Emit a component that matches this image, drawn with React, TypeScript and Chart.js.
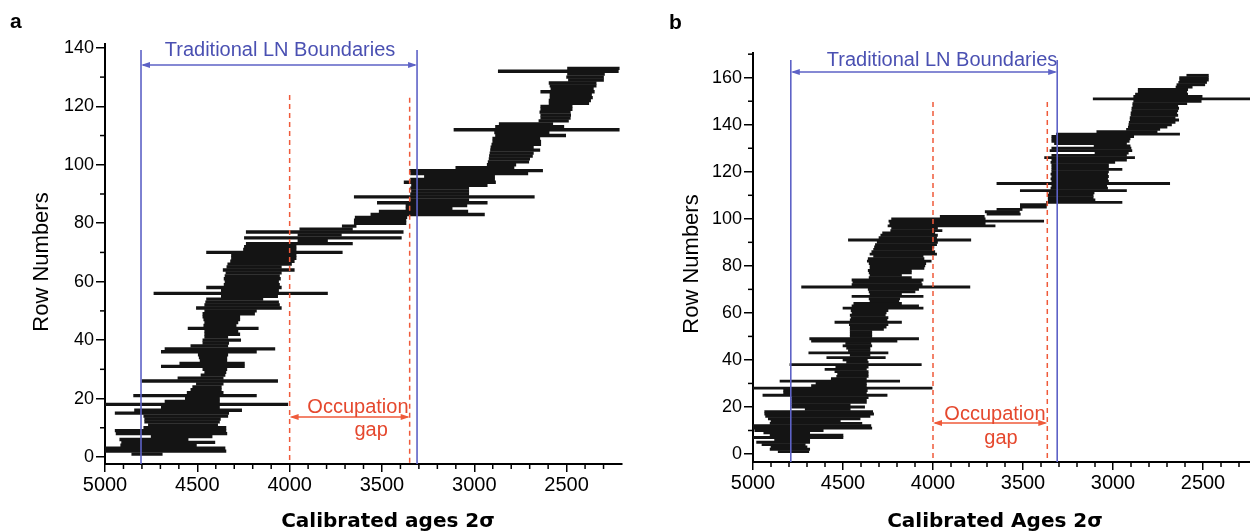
import React, { useEffect, useRef } from "react";
import { Chart, registerables } from "chart.js";

Chart.register(...registerables);

// ---------- Panel a: calibrated 2σ ranges (older -> younger), rows 1..133 ----------
const aStart = [
  4855, 5000, 5000, 4915, 4910, 4920, 4750, 4940, 4945, 4790,
  4765, 4785, 4785, 4790, 4945, 4840, 4695, 5000, 4675, 4565,
  4845, 4555, 4535, 4525, 4505, 4800, 4605, 4480, 4460, 4470,
  4695, 4595, 4485, 4490, 4495, 4695, 4675, 4535, 4470, 4470,
  4460, 4460, 4460, 4550, 4465, 4460, 4465, 4470, 4470, 4460,
  4505, 4460, 4455, 4450, 4370, 4735, 4370, 4450, 4355, 4350,
  4355, 4350, 4345, 4360, 4340, 4335, 4320, 4315, 4315, 4450,
  4250, 4245, 4235, 3955, 4245, 3955, 4235, 3945, 3715, 3650,
  3650, 3645, 3560, 3515, 3370, 3370, 3525, 3345, 3650, 3345,
  3340, 3345, 3340, 3380, 3345, 3270, 3345, 3350, 3100, 2930,
  2925, 2920, 2918, 2915, 2912, 2910, 2905, 2900, 2900, 2885,
  2890, 3110, 2885, 2865, 2650, 2640, 2640, 2645, 2640, 2640,
  2595, 2595, 2590, 2590, 2640, 2585, 2590, 2595, 2490, 2500,
  2495, 2870, 2495,
];
const aEnd = [
  4690, 4345, 4350, 4505, 4405, 4550, 4420, 4340, 4345, 4345,
  4390, 4380, 4375, 4335, 4330, 4260, 4380, 4010, 4380, 4380,
  4180, 4360, 4370, 4370, 4360, 4065, 4360, 4350, 4345, 4340,
  4245, 4245, 4340, 4340, 4335, 4180, 4080, 4335, 4330, 4265,
  4335, 4270, 4280, 4170, 4290, 4280, 4270, 4270, 4190, 4180,
  4045, 4055, 4060, 4145, 4065, 3795, 4060, 4045, 4055, 4060,
  4050, 4055, 4045, 3975, 4045, 3990, 3975, 3965, 3965, 3715,
  3965, 3965, 3660, 3795, 3395, 3720, 3385, 3660, 3640, 3370,
  3370, 3365, 2945, 3035, 3120, 3040, 2930, 3030, 2675, 3030,
  3030, 3030, 2930, 2885, 2890, 2890, 2710, 2630, 2785, 2775,
  2705, 2700, 2685, 2680, 2645, 2680, 2640, 2640, 2645, 2505,
  2595, 2215, 2515, 2575, 2490, 2480, 2478, 2480, 2470, 2470,
  2380, 2370, 2360, 2365, 2350, 2355, 2340, 2340, 2300, 2300,
  2295, 2220, 2215,
];

// ---------- Panel b: rows 1..161 ----------
const bStart = [
  4860, 4905, 4900, 4950, 4980, 4880, 5000, 4905, 4940, 4990,
  5000, 5000, 4905, 4900, 4915, 4930, 4935, 4935, 4710, 4785,
  4785, 4785, 4785, 4785, 4945, 4830, 4830, 5000, 4675, 4650,
  4850, 4565, 4535, 4530, 4545, 4600, 4540, 4795, 4480, 4500,
  4590, 4460, 4690, 4470, 4480, 4500, 4485, 4675, 4685, 4460,
  4460, 4460, 4460, 4460, 4465, 4545, 4460, 4455, 4460, 4450,
  4455, 4500, 4450, 4440, 4350, 4355, 4450, 4350, 4355, 4360,
  4730, 4450, 4445, 4450, 4355, 4350, 4355, 4360, 4350, 4350,
  4355, 4365, 4360, 4330, 4350, 4340, 4330, 4325, 4320, 4310,
  4470, 4300, 4290, 4280, 4235, 4230, 4250, 4240, 4245, 4230,
  3960, 3700, 3710, 3645, 3515, 3515, 3370, 3360, 3360, 3360,
  3355, 3515, 3345, 3340, 3645, 3340, 3345, 3340, 3345, 3340,
  3340, 3340, 3340, 3345, 3340, 3380, 3340, 3100, 3350, 3340,
  3105, 3325, 3340, 3340, 3340, 3315, 3090, 2925, 2915, 2912,
  2910, 2905, 2905, 2900, 2900, 2895, 2895, 2890, 2890, 2885,
  3110, 2885, 2875, 2860, 2860, 2650, 2645, 2635, 2630, 2630,
  2590,
];
const bEnd = [
  4690, 4685, 4700, 4710, 4685, 4685, 4500, 4500, 4685, 4610,
  4340, 4345, 4395, 4515, 4405, 4350, 4330, 4335, 4460, 4380,
  4460, 4370, 4370, 4360, 4255, 4370, 4365, 4005, 4370, 4370,
  4185, 4370, 4360, 4360, 4360, 4370, 4360, 4065, 4360, 4365,
  4265, 4350, 4250, 4350, 4350, 4340, 4345, 4200, 4080, 4340,
  4340, 4340, 4275, 4260, 4250, 4175, 4255, 4250, 4265, 4260,
  4250, 4055, 4080, 4175, 4190, 4185, 4055, 4175, 4100, 4080,
  3795, 4060, 4065, 4055, 4120, 4175, 4120, 4120, 4050, 4045,
  4040, 4010, 4050, 4055, 3980, 3990, 4005, 3995, 3980, 3975,
  3790, 3980, 3975, 3990, 3950, 3975, 3655, 3710, 3385, 3710,
  3715, 3515, 3520, 3505, 3370, 3365, 2950, 3100, 3110, 3110,
  3105, 2925, 3030, 3035, 2685, 3025, 3030, 3025, 3030, 3025,
  2950, 3025, 3025, 2990, 2925, 2880, 2925, 2915, 2895, 2900,
  2905, 2925, 2910, 2905, 2885, 2630, 2755, 2740, 2700, 2675,
  2655, 2635, 2655, 2640, 2645, 2640, 2635, 2640, 2590, 2510,
  2200, 2505, 2585, 2590, 2585, 2560, 2490, 2480, 2470, 2470,
  2470,
];

// ---------- Axis ticks ----------
const X_MAJOR = [5000, 4500, 4000, 3500, 3000, 2500];
const Y_MAJOR_A = [0, 20, 40, 60, 80, 100, 120, 140];
const Y_MAJOR_B = [0, 20, 40, 60, 80, 100, 120, 140, 160];

// Traditional LN boundaries / occupation gap (ages)
const LN_A = [4805, 3310];
const GAP_A = [4000, 3350];
const LN_B = [4790, 3310];
const GAP_B = [4000, 3365];

const BLUE_LINE = "#5d62c6";
const BLUE_TEXT = "#4a50b2";
const RED_LINE = "#ef5a3a";
const RED_TEXT = "#e5482e";
const SANS = "'Liberation Sans', Arial, Helvetica, sans-serif";
const BOLD_TITLE = "'DejaVu Sans', Verdana, sans-serif";

type PanelCfg = {
  letter: string;
  letterX: number;
  letterY: number;
  left: number;
  width: number;
  starts: number[];
  ends: number[];
  yMin: number;
  yMax: number;
  yMajor: number[];
  padTop: number;
  padRight: number;
  yAxisW: number;
  xAxisH: number;
  barT: number;
  xTitle: string;
  xTitleX: number;
  yTitleX: number;
  yTitleY: number;
  ln: number[];
  lnTop: number;
  lnArrowY: number;
  lnTextAt: [number, number];
  gap: number[];
  gapTopL: number;
  gapTopR: number;
  gapArrowY: number;
  occAt: [number, number];
  gapTextAt: [number, number];
};

const PANELS: PanelCfg[] = [
  {
    letter: "a", letterX: 10, letterY: 28, left: 0, width: 630,
    starts: aStart, ends: aEnd, yMin: -2.4, yMax: 141.5, yMajor: Y_MAJOR_A,
    padTop: 43.5, padRight: 8, yAxisW: 105, xAxisH: 68, barT: 2.7,
    xTitle: "Calibrated ages 2σ", xTitleX: 388, yTitleX: 42, yTitleY: 262,
    ln: LN_A, lnTop: 139.3, lnArrowY: 134.1, lnTextAt: [4052, 137.3],
    gap: GAP_A, gapTopL: 123.9, gapTopR: 122.9, gapArrowY: 13.7,
    occAt: [3630, 15.0], gapTextAt: [3559, 7.2],
  },
  {
    letter: "b", letterX: 34, letterY: 29, left: 635, width: 625,
    starts: bStart, ends: bEnd, yMin: -3.4, yMax: 170.5, yMajor: Y_MAJOR_B,
    padTop: 53, padRight: 3, yAxisW: 118, xAxisH: 70, barT: 2.2,
    xTitle: "Calibrated Ages 2σ", xTitleX: 995 - 635, yTitleX: 692 - 635, yTitleY: 264,
    ln: LN_B, lnTop: 167.5, lnArrowY: 162.4, lnTextAt: [3950, 164.8],
    gap: GAP_B, gapTopL: 149.7, gapTopR: 149.7, gapArrowY: 13.2,
    occAt: [3656, 14.5], gapTextAt: [3622, 4.25],
  },
];

function arrowLine(ctx: CanvasRenderingContext2D, x1: number, x2: number, y: number, color: string) {
  ctx.save();
  ctx.strokeStyle = color;
  ctx.fillStyle = color;
  ctx.lineWidth = 1.5;
  ctx.beginPath();
  ctx.moveTo(x1 + 2, y);
  ctx.lineTo(x2 - 2, y);
  ctx.stroke();
  ctx.beginPath();
  ctx.moveTo(x1, y);
  ctx.lineTo(x1 + 9, y - 3);
  ctx.lineTo(x1 + 9, y + 3);
  ctx.closePath();
  ctx.fill();
  ctx.beginPath();
  ctx.moveTo(x2, y);
  ctx.lineTo(x2 - 9, y - 3);
  ctx.lineTo(x2 - 9, y + 3);
  ctx.closePath();
  ctx.fill();
  ctx.restore();
}

function makePlugin(p: PanelCfg) {
  return {
    id: "decor" + p.letter,
    afterDatasetsDraw(chart: any) {
      const ctx: CanvasRenderingContext2D = chart.ctx;
      const xs = chart.scales.x;
      const ys = chart.scales.y;
      const area = chart.chartArea;
      ctx.save();
      ctx.strokeStyle = BLUE_LINE;
      ctx.lineWidth = 1.6;
      p.ln.forEach((v) => {
        const px = xs.getPixelForValue(v);
        ctx.beginPath();
        ctx.moveTo(px, ys.getPixelForValue(p.lnTop));
        ctx.lineTo(px, area.bottom);
        ctx.stroke();
      });
      ctx.strokeStyle = RED_LINE;
      ctx.lineWidth = 1.5;
      ctx.setLineDash([5, 4]);
      p.gap.forEach((v, i) => {
        const px = xs.getPixelForValue(v);
        ctx.beginPath();
        ctx.moveTo(px, ys.getPixelForValue(i === 0 ? p.gapTopL : p.gapTopR));
        ctx.lineTo(px, area.bottom);
        ctx.stroke();
      });
      ctx.setLineDash([]);
      ctx.restore();

      arrowLine(ctx, xs.getPixelForValue(p.ln[0]), xs.getPixelForValue(p.ln[1]), ys.getPixelForValue(p.lnArrowY), BLUE_LINE);
      arrowLine(ctx, xs.getPixelForValue(p.gap[0]), xs.getPixelForValue(p.gap[1]), ys.getPixelForValue(p.gapArrowY), RED_LINE);

      ctx.save();
      ctx.textAlign = "center";
      ctx.textBaseline = "alphabetic";
      ctx.fillStyle = BLUE_TEXT;
      ctx.font = `20px ${SANS}`;
      ctx.fillText("Traditional LN Boundaries", xs.getPixelForValue(p.lnTextAt[0]), ys.getPixelForValue(p.lnTextAt[1]));
      ctx.fillStyle = RED_TEXT;
      ctx.fillText("Occupation", xs.getPixelForValue(p.occAt[0]), ys.getPixelForValue(p.occAt[1]));
      ctx.fillText("gap", xs.getPixelForValue(p.gapTextAt[0]), ys.getPixelForValue(p.gapTextAt[1]));
      ctx.restore();
    },
    afterDraw(chart: any) {
      const ctx: CanvasRenderingContext2D = chart.ctx;
      const xs = chart.scales.x;
      const ys = chart.scales.y;
      const area = chart.chartArea;
      ctx.save();
      ctx.strokeStyle = "#000";
      ctx.lineWidth = 1.5;
      for (let v = 2300; v < 5000; v += 100) {
        if (v % 500 === 0) continue;
        const px = xs.getPixelForValue(v);
        if (px > area.right + 1) continue;
        ctx.beginPath();
        ctx.moveTo(px, area.bottom);
        ctx.lineTo(px, area.bottom + 5);
        ctx.stroke();
      }
      for (let v = 10; v < p.yMax; v += 20) {
        const py = ys.getPixelForValue(v);
        ctx.beginPath();
        ctx.moveTo(area.left - 5, py);
        ctx.lineTo(area.left, py);
        ctx.stroke();
      }
      ctx.fillStyle = "#000";
      ctx.font = `bold 21px ${SANS}`;
      ctx.textAlign = "left";
      ctx.textBaseline = "alphabetic";
      ctx.fillText(p.letter, p.letterX, p.letterY);
      ctx.font = `bold 20px ${BOLD_TITLE}`;
      ctx.textAlign = "center";
      ctx.fillText(p.xTitle, p.xTitleX, 527);
      ctx.translate(p.yTitleX, p.yTitleY);
      ctx.rotate(-Math.PI / 2);
      ctx.font = `22px ${SANS}`;
      ctx.textBaseline = "middle";
      ctx.fillText("Row Numbers", 0, 0);
      ctx.restore();
    },
  };
}

function Panel({ p }: { p: PanelCfg }) {
  const ref = useRef<HTMLCanvasElement>(null);
  useEffect(() => {
    const canvas = ref.current;
    if (!canvas) return;
    const data = p.starts.map((s, i) => ({ x: [s, p.ends[i]], y: i + 1 }));
    const chart = new Chart(canvas, {
      type: "bar",
      data: {
        datasets: [
          {
            data: data as any,
            backgroundColor: "#141414",
            borderWidth: 0,
            barThickness: p.barT,
          } as any,
        ],
      },
      options: {
        responsive: false,
        animation: false,
        devicePixelRatio: 1,
        indexAxis: "y",
        events: [],
        layout: { padding: { top: p.padTop, right: p.padRight, left: 0, bottom: 0 } },
        plugins: { legend: { display: false }, tooltip: { enabled: false } },
        scales: {
          x: {
            type: "linear",
            reverse: true,
            min: 2200,
            max: 5000,
            offset: false,
            afterFit: (s: any) => { s.height = p.xAxisH; },
            afterBuildTicks: (s: any) => { s.ticks = X_MAJOR.map((v) => ({ value: v })); },
            border: { display: true, color: "#000", width: 2 },
            grid: { drawOnChartArea: false, drawTicks: true, tickLength: 8, color: "#000", lineWidth: 1.5, offset: false },
            ticks: {
              color: "#000", padding: 1, font: { family: SANS, size: 20 }, maxRotation: 0, autoSkip: false,
              callback: (v: any) => String(v),
            },
          },
          y: {
            type: "linear",
            min: p.yMin,
            max: p.yMax,
            offset: false,
            afterFit: (s: any) => { s.width = p.yAxisW; },
            afterBuildTicks: (s: any) => { s.ticks = p.yMajor.map((v) => ({ value: v })); },
            border: { display: true, color: "#000", width: 2 },
            grid: { drawOnChartArea: false, drawTicks: true, tickLength: 9, color: "#000", lineWidth: 1.5, offset: false },
            ticks: {
              color: "#000", padding: 2, font: { family: SANS, size: 18 }, autoSkip: false,
              callback: (v: any) => String(v),
            },
          },
        },
      } as any,
      plugins: [makePlugin(p)],
    });
    return () => chart.destroy();
  }, [p]);
  return (
    <canvas
      ref={ref}
      width={p.width}
      height={532}
      style={{ position: "absolute", left: p.left, top: 0, width: p.width, height: 532 }}
    />
  );
}

export default function App() {
  return (
    <div
      style={{
        position: "fixed",
        left: 0,
        top: 0,
        width: 1250,
        height: 532,
        overflow: "hidden",
        background: "#fff",
      }}
    >
      {PANELS.map((p) => (
        <Panel key={p.letter} p={p} />
      ))}
    </div>
  );
}
